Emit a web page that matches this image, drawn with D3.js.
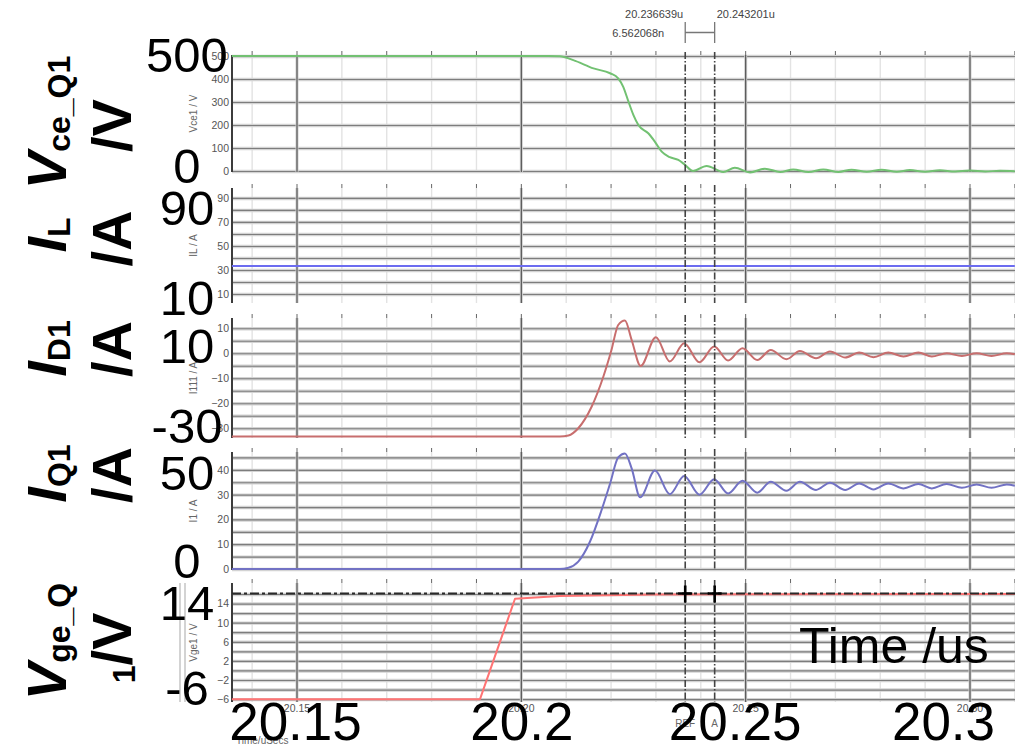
<!DOCTYPE html>
<html>
<head>
<meta charset="utf-8">
<script src="https://cdn.jsdelivr.net/npm/d3@7"></script>
<style>
  html, body { margin: 0; padding: 0; background: #fff; }
  svg { display: block; }
</style>
</head>
<body>
<svg id="chart" width="1015" height="748"></svg>
<script>
// ---------- time axis (us) ----------
const timeMajor = [20.15, 20.20, 20.25, 20.30];
const timeMinor = [20.14, 20.16, 20.17, 20.18, 20.19, 20.21, 20.22, 20.23, 20.24,
                   20.26, 20.27, 20.28, 20.29, 20.31];
const timeLabels = ["20.15", "20.2", "20.25", "20.3"];

// ---------- cursors ----------
const cursorTimes = [20.236639, 20.243201];
const cursorText = ["20.236639u", "20.243201u"];
const cursorDelta = "6.562068n";
const cursorNames = ["REF", "A"];
const vgeCrossLevel = 16.1;

// ---------- waveforms: [time us, value] ----------
const vceQ1 = [
  [20.1356, 500], [20.2061, 500], [20.2087, 499], [20.2117, 482], [20.2162, 446],
  [20.2199, 425], [20.2217, 403], [20.2228, 367], [20.2240, 301], [20.2251, 243],
  [20.2262, 200], [20.2284, 164], [20.2299, 127], [20.2314, 84], [20.2332, 60],
  [20.2351, 48], [20.2364, 30], [20.2384, 0], [20.2414, 22], [20.2451, -4],
  [20.2477, 14], [20.2511, -6], [20.2544, 10], [20.2578, -4], [20.2607, 7],
  [20.2641, -4], [20.2674, 7], [20.2708, -4], [20.2737, 6], [20.2771, -3],
  [20.2804, 5], [20.2838, -3], [20.2867, 4], [20.2901, -3], [20.2934, 3],
  [20.2968, -2], [20.3001, 2], [20.3035, -2], [20.3068, 1], [20.3101, -1]
];
const iL = [[20.1356, 33.3], [20.3101, 33.3]];
const iD1 = [
  [20.1356, -33.3], [20.2050, -33.3], [20.2087, -33.3], [20.2106, -32.9], [20.2128, -30],
  [20.2158, -21.3], [20.2184, -9.3], [20.2202, 1.3], [20.2217, 11.3], [20.2232, 13.1],
  [20.2247, 5.3], [20.2267, -5.1], [20.2301, 6.4], [20.2332, -3.3], [20.2364, 4.0],
  [20.2398, -3.6], [20.2431, 2.7], [20.2462, -2.9], [20.2494, 2.0], [20.2527, -2.7],
  [20.2557, 1.3], [20.2592, -2.4], [20.2622, 0.9], [20.2658, -2.0], [20.2689, 0.7],
  [20.2723, -1.7], [20.2754, 0.3], [20.2786, -1.6], [20.2819, 0.3], [20.2853, -1.3],
  [20.2886, 0.3], [20.2916, -1.3], [20.2949, 0], [20.2983, -1.1], [20.3016, 0],
  [20.3049, -1.1], [20.3083, 0], [20.3101, -0.4]
];
const iQ1 = [
  [20.1356, 0], [20.2050, 0], [20.2087, 0], [20.2106, 0.5], [20.2128, 3.0],
  [20.2154, 11.0], [20.2180, 23.8], [20.2199, 34.5], [20.2217, 45.0], [20.2232, 46.6],
  [20.2247, 40.6], [20.2266, 28.9], [20.2299, 39.7], [20.2332, 30.2], [20.2364, 37.5],
  [20.2398, 30.0], [20.2431, 36.2], [20.2462, 30.5], [20.2494, 35.6], [20.2527, 30.8],
  [20.2557, 35.2], [20.2592, 31.6], [20.2622, 35.2], [20.2658, 31.9], [20.2689, 34.8],
  [20.2723, 31.9], [20.2754, 34.5], [20.2786, 32.1], [20.2819, 34.5], [20.2853, 32.5],
  [20.2886, 34.3], [20.2916, 32.5], [20.2949, 34.3], [20.2983, 32.8], [20.3016, 34.1],
  [20.3049, 32.8], [20.3083, 34.1], [20.3101, 33.6]
];
const vgeQ1 = [
  [20.1356, -6], [20.1909, -6], [20.1987, 15.0], [20.2087, 15.6], [20.2300, 15.9], [20.3101, 16.0]
];

// ---------- per-panel value axes ----------
const vceDomain = [-4.3, 504.3], vceGrid = [0, 100, 200, 300, 400, 500], vceTicks = [0, 100, 200, 300, 400, 500];
const ilDomain = [2.5, 98.3], ilGrid = [10, 20, 30, 40, 50, 60, 70, 80, 90], ilTicks = [10, 30, 50, 70, 90];
const id1Domain = [-33.9, 14.1], id1Grid = [-30, -25, -20, -15, -10, -5, 0, 5, 10], id1Ticks = [-30, -20, -10, 0, 10];
const iq1Domain = [-0.4, 47.2], iq1Grid = [0, 5, 10, 15, 20, 25, 30, 35, 40, 45], iq1Ticks = [0, 10, 20, 30, 40];
const vgeDomain = [-6.6, 18.3], vgeGrid = [-6, -4, -2, 0, 2, 4, 6, 8, 10, 12, 14, 16], vgeTicks = [-6, -2, 2, 6, 10, 14];

// big axis annotations: text and the value each one sits at
const bigLabels = [
  [["500", 500], ["0", 0]],
  [["90", 90], ["10", 10]],
  [["10", 10], ["-30", -30]],
  [["50", 50], ["0", 0]],
  [["14", 14], ["-6", -6]]
];

// ---------- layout ----------
const W = 1015, H = 748;
const plotLeft = 232, plotRight = 1015;
const boxes = [[55, 172], [188, 303], [318, 438], [452, 570], [583, 702]];
const bigLabelDy = [[16, 12], [27, 21], [35, 15], [45, 9], [16.5, 6]];
const bigLabelX = 187;
const timeLabelDx = [-1, 1, -10, -26];
const titleCenters = [[122.5, 125.5], [235, 238.5], [348.5, 349], [473.5, 475], [641.5, 648]];
const titleX = [66, 131];

const FONT = "'Liberation Sans', Arial, sans-serif";

const svg = d3.select("#chart");
svg.append("rect").attr("width", W).attr("height", H).attr("fill", "#fff");

const x = d3.scaleLinear().domain([20.15, 20.30]).range([296.5, 969.5]);

const panels = [
  { domain: vceDomain, grid: vceGrid, ticks: vceTicks, data: vceQ1, color: "#72c172", curve: d3.curveMonotoneX, name: "Vce1 / V" },
  { domain: ilDomain, grid: ilGrid, ticks: ilTicks, data: iL, color: "#6c6cf0", curve: d3.curveLinear, name: "IL / A" },
  { domain: id1Domain, grid: id1Grid, ticks: id1Ticks, data: iD1, color: "#c86e6e", curve: d3.curveMonotoneX, name: "I111 / A" },
  { domain: iq1Domain, grid: iq1Grid, ticks: iq1Ticks, data: iQ1, color: "#7272c4", curve: d3.curveMonotoneX, name: "I1 / A" },
  { domain: vgeDomain, grid: vgeGrid, ticks: vgeTicks, data: vgeQ1, color: "#ff7474", curve: d3.curveLinear, name: "Vge1 / V" }
];
panels.forEach((p, i) => {
  p.box = boxes[i];
  p.y = d3.scaleLinear().domain(p.domain).range([p.box[1], p.box[0]]);
});

const stripDomain = a => a.select(".domain").remove();

// ---------- grids ----------
const gridG = svg.append("g");
panels.forEach((p, i) => {
  const g = gridG.append("g");
  const h = p.box[1] - p.box[0];
  // light minor time lines
  g.append("g").attr("transform", `translate(0,${p.box[1]})`)
    .call(d3.axisBottom(x).tickValues(timeMinor.filter(t => x(t) > plotLeft && x(t) < plotRight)).tickSize(-h).tickFormat(""))
    .call(stripDomain)
    .selectAll("line").attr("stroke", "#e3e3e3").attr("stroke-width", 1.4);
  // horizontal value lines (soft halo + core)
  [["#d3d3d3", 3.4], ["#7d7d7d", 1.2]].forEach(([c, w]) => {
    g.append("g").attr("transform", `translate(${plotLeft},0)`)
      .call(d3.axisLeft(p.y).tickValues(p.grid).tickSize(-(plotRight - plotLeft)).tickFormat(""))
      .call(stripDomain)
      .selectAll("line").attr("stroke", c).attr("stroke-width", w);
  });
  // major time lines
  [["#cfcfcf", 3], ["#555", 1.2]].forEach(([c, w]) => {
    g.append("g").attr("transform", `translate(0,${p.box[1]})`)
      .call(d3.axisBottom(x).tickValues(timeMajor).tickSize(-h).tickFormat(""))
      .call(stripDomain)
      .selectAll("line").attr("stroke", c).attr("stroke-width", w);
  });
  // short ticks above each panel
  g.append("g").attr("transform", `translate(0,${p.box[0]})`)
    .call(d3.axisTop(x).tickValues(timeMajor.concat(timeMinor).filter(t => x(t) > plotLeft && x(t) < plotRight)).tickSize(4).tickFormat(""))
    .call(stripDomain)
    .selectAll("line").attr("stroke", "#666").attr("stroke-width", 1);
  // left frame
  g.append("line").attr("x1", plotLeft).attr("x2", plotLeft)
    .attr("y1", p.box[0]).attr("y2", p.box[1])
    .attr("stroke", "#3c3c3c").attr("stroke-width", 2);
});

// ---------- waveforms ----------
const waveG = svg.append("g");
panels.forEach(p => {
  const line = d3.line().x(d => x(d[0])).y(d => p.y(d[1])).curve(p.curve);
  waveG.append("path").datum(p.data)
    .attr("d", line).attr("fill", "none")
    .attr("stroke", p.color).attr("stroke-width", 2)
    .attr("stroke-linejoin", "round");
});

// ---------- cursors ----------
const curG = svg.append("g");
panels.forEach(p => {
  cursorTimes.forEach(t => {
    curG.append("line").attr("x1", x(t)).attr("x2", x(t))
      .attr("y1", p.box[0] - 3).attr("y2", p.box[1])
      .attr("stroke", "#444").attr("stroke-width", 1.6)
      .attr("stroke-dasharray", "7,2,1.5,2");
  });
});
// gate-voltage crosshair level
const vgeP = panels[4];
curG.append("line").attr("x1", plotLeft).attr("x2", plotRight)
  .attr("y1", vgeP.y(vgeCrossLevel)).attr("y2", vgeP.y(vgeCrossLevel))
  .attr("stroke", "#2a2a2a").attr("stroke-width", 1.8)
  .attr("stroke-dasharray", "9,3,3,3");
cursorTimes.forEach(t => {
  const cx = x(t), cy = vgeP.y(vgeCrossLevel);
  curG.append("path")
    .attr("d", `M${cx - 7},${cy}H${cx + 7}M${cx},${cy - 8}V${cy + 9}`)
    .attr("stroke", "#000").attr("stroke-width", 2.6).attr("fill", "none");
});
// delta bracket and cursor readouts
const c0 = x(cursorTimes[0]), c1 = x(cursorTimes[1]);
curG.append("path")
  .attr("d", `M${c0},22V43M${c1},22V43M${c0},32.5H${c1}`)
  .attr("stroke", "#777").attr("stroke-width", 1.3).attr("fill", "none");
const smallText = (g, tx, ty, s, anchor) => g.append("text")
  .attr("x", tx).attr("y", ty).attr("text-anchor", anchor || "start")
  .attr("font-family", FONT).attr("font-size", 11).attr("fill", "#444").text(s);
smallText(curG, c0 - 2, 18, cursorText[0], "end");
smallText(curG, c1 + 2, 18, cursorText[1], "start");
smallText(curG, c0 - 21, 37, cursorDelta, "end");
cursorTimes.forEach((t, i) => smallText(curG, x(t), 727, cursorNames[i], "middle").attr("font-size", 10).attr("fill", "#666"));

// ---------- small axis text ----------
const axG = svg.append("g");
panels.forEach(p => {
  axG.append("g").attr("transform", `translate(${plotLeft - 1},0)`)
    .call(d3.axisLeft(p.y).tickValues(p.ticks).tickSize(0).tickPadding(2))
    .call(stripDomain)
    .selectAll("text").attr("font-family", FONT).attr("font-size", 10.5).attr("fill", "#555");
  const cy = (p.box[0] + p.box[1]) / 2;
  axG.append("text").attr("transform", `translate(197,${cy}) rotate(-90)`)
    .attr("text-anchor", "middle").attr("font-family", FONT).attr("font-size", 10)
    .attr("fill", "#666").text(p.name);
});
axG.append("g").attr("transform", `translate(0,${boxes[4][1]})`)
  .call(d3.axisBottom(x).tickValues(timeMajor).tickSize(0).tickPadding(3).tickFormat(d3.format(".2f")))
  .call(stripDomain)
  .selectAll("text").attr("font-family", FONT).attr("font-size", 10.5).attr("fill", "#555");
smallText(axG, 236, 744, "Time/uSecs").attr("font-size", 10).attr("fill", "#666");
// scroll bar beside the gate panel
[180, 185].forEach(sx => axG.append("line").attr("x1", sx).attr("x2", sx)
  .attr("y1", boxes[4][0]).attr("y2", boxes[4][1])
  .attr("stroke", "#c4c4c4").attr("stroke-width", 1.5));

// ---------- large annotation text ----------
const bigG = svg.append("g").attr("font-family", FONT).attr("fill", "#000");
panels.forEach((p, i) => {
  bigLabels[i].forEach(([txt, v], j) => {
    bigG.append("text").attr("x", bigLabelX).attr("y", p.y(v) + bigLabelDy[i][j])
      .attr("text-anchor", "middle").attr("font-size", 49).text(txt);
  });
});
timeMajor.forEach((t, i) => {
  bigG.append("text").attr("x", x(t) + timeLabelDx[i]).attr("y", 740)
    .attr("text-anchor", "middle").attr("font-size", 53).text(timeLabels[i]);
});
bigG.append("text").attr("x", 799).attr("y", 663).attr("font-size", 50).text("Time /us");

// rotated quantity names, two lines each
const titles = [
  [[["V", "main"], ["ce_Q1", "sub"]], [["/V", "plain"]]],
  [[["I", "main"], ["L", "sub"]], [["/A", "plain"]]],
  [[["I", "main"], ["D1", "sub"]], [["/A", "plain"]]],
  [[["I", "main"], ["Q1", "sub"]], [["/A", "plain"]]],
  [[["V", "main"], ["ge_Q", "sub"]], [["1", "sub"], ["/V", "plain"]]]
];
const MAIN = 56, SUB = 32, SUBSHIFT = 4;
titles.forEach((lines, i) => {
  lines.forEach((parts, li) => {
    const t = bigG.append("text")
      .attr("transform", `translate(${titleX[li]},${titleCenters[i][li]}) rotate(-90)`)
      .attr("text-anchor", "middle").attr("font-weight", "bold");
    let shift = 0;
    parts.forEach(([s, kind]) => {
      const target = kind === "sub" ? SUBSHIFT : 0;
      t.append("tspan")
        .attr("font-size", kind === "sub" ? SUB : MAIN)
        .attr("font-style", kind === "main" ? "italic" : "normal")
        .attr("dy", target - shift).text(s);
      shift = target;
    });
  });
});
</script>
</body>
</html>
